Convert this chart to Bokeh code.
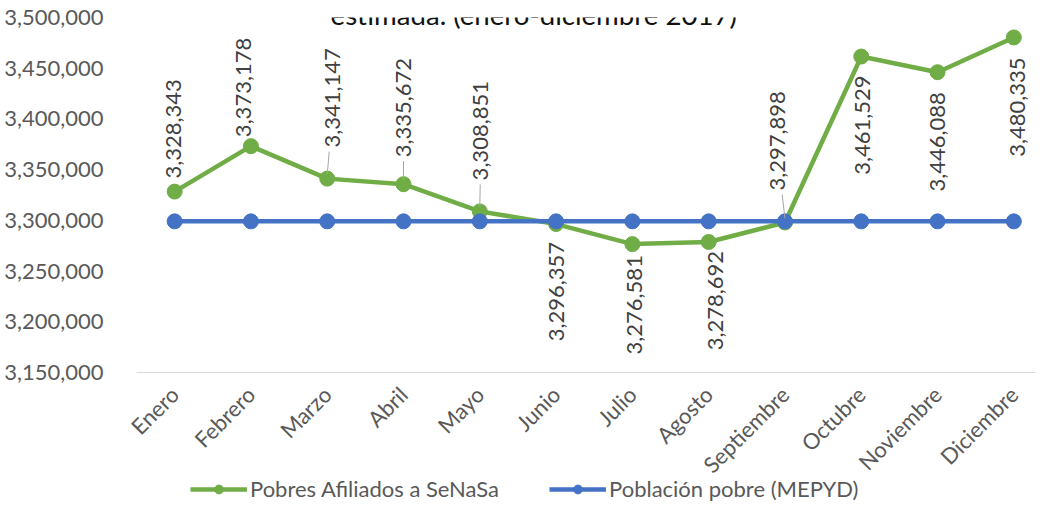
import math
from bokeh.plotting import figure
from bokeh.models import (FixedTicker, NumeralTickFormatter, Label, Range1d,
                          Legend, LegendItem)
from bokeh.core.properties import value
from bokeh.embed import file_html
from bokeh.resources import INLINE

# ---- data ----
months = ["Enero", "Febrero", "Marzo", "Abril", "Mayo", "Junio", "Julio",
          "Agosto", "Septiembre", "Octubre", "Noviembre", "Diciembre"]
afiliados = [3328343, 3373178, 3341147, 3335672, 3308851, 3296357, 3276581,
             3278692, 3297898, 3461529, 3446088, 3480335]
poblacion_pobre = [3299000] * 12
y_ticks = [3150000, 3200000, 3250000, 3300000, 3350000, 3400000, 3450000, 3500000]
title_text = "estimada. (enero-diciembre 2017)"
series_names = ["Pobres Afiliados a SeNaSa", "Población pobre (MEPYD)"]

# ---- label placement (styling) ----
label_side = ["above", "above", "above", "above", "above", "below", "below",
              "below", "above", "below", "below", "below"]
label_gap_px = [13, 9, 31, 27, 31, 18, 11, 9, 32, 19, 20, 20]
label_dx_px = [-1, -7, 5, 0, 1, 0, 2, 7, -7, 1, 0, 4]
leader = [False, False, True, True, True, False, False, False, True, False, False, False]

GREEN = "#70AD47"
BLUE = "#4472C4"
FONT = "Lato"

PAD_L = 20            # extra room left of the category area (px) for slanted labels
AX0, X1 = -0.5, 11.284
Y0, Y1 = 3150000, 3500000
PLOT_W = 899          # pixel width of the category area (AX0..X1)
PLOT_H = 355          # pixel height of the value area (Y0..Y1)
EXTRA_H = 130         # room under the value axis for categories and legend
px_x = PLOT_W / (X1 - AX0)
px_y = PLOT_H / (Y1 - Y0)
X0 = AX0 - PAD_L / px_x
Y_BOTTOM = Y0 - EXTRA_H / px_y

p = figure(frame_width=PLOT_W + PAD_L, frame_height=PLOT_H + EXTRA_H, output_backend="svg",
           toolbar_location=None,
           x_range=Range1d(X0, X1), y_range=Range1d(Y_BOTTOM, Y1),
           min_border_left=136 - PAD_L, min_border_right=0, min_border_top=17,
           min_border_bottom=0)
p.outline_line_color = None
p.xgrid.visible = False
p.ygrid.visible = False
p.background_fill_color = "white"
p.xaxis.visible = False

xs = list(range(len(months)))

# category axis line
p.segment([AX0], [Y0], [X1], [Y0], line_color="#D9D9D9", line_width=1)

l1 = p.line(xs, afiliados, line_color=GREEN, line_width=4.5)
s1 = p.scatter(xs, afiliados, size=15, fill_color=GREEN, line_color=GREEN)
l2 = p.line(xs, poblacion_pobre, line_color=BLUE, line_width=4.5)
s2 = p.scatter(xs, poblacion_pobre, size=15, fill_color=BLUE, line_color=BLUE)

# leader lines
lx0, ly0, lx1, ly1 = [], [], [], []
for i, v in enumerate(afiliados):
    if leader[i]:
        lx0.append(i + label_dx_px[i] * 0.4 / px_x)
        ly0.append(v + (label_gap_px[i] - 4) / px_y)
        lx1.append(i)
        ly1.append(v + 4 / px_y)
p.segment(lx0, ly0, lx1, ly1, line_color="#A6A6A6", line_width=1)

# data labels
for side in ("above", "below"):
    idx = [i for i in xs if label_side[i] == side]
    p.text([i for i in idx], [afiliados[i] for i in idx],
           text=[f"{afiliados[i]:,}" for i in idx],
           angle=math.pi / 2,
           x_offset=[label_dx_px[i] for i in idx],
           y_offset=[(-label_gap_px[i] if side == "above" else label_gap_px[i]) for i in idx],
           text_align="left" if side == "above" else "right",
           text_baseline="middle",
           text_font=value(FONT), text_font_size="22px", text_color="#404040")

# category labels, rotated 45 degrees
p.text(xs, [Y0] * len(xs), text=months, angle=math.pi / 4, y_offset=18,
       text_align="right", text_baseline="middle",
       text_font=value(FONT), text_font_size="22px", text_color="#595959")

# title (partially cut at top)
p.add_layout(Label(x=4.706, y=Y1 + 3 / px_y, text=title_text, text_align="center",
                   text_baseline="alphabetic", text_font=FONT, text_font_size="27.6px",
                   text_color="#111111"))

# value axis
p.yaxis.ticker = FixedTicker(ticks=y_ticks)
p.yaxis.formatter = NumeralTickFormatter(format="0,0")
p.yaxis.axis_line_color = None
p.yaxis.major_tick_line_color = None
p.yaxis.minor_tick_line_color = None
p.yaxis.major_label_text_font = FONT
p.yaxis.major_label_text_font_size = "22px"
p.yaxis.major_label_text_color = "#595959"
p.yaxis.major_label_standoff = 27 - PAD_L

# legend
lg = Legend(items=[LegendItem(label=series_names[0], renderers=[l1, s1]),
                   LegendItem(label=series_names[1], renderers=[l2, s2])],
            orientation="horizontal", location=(54 + PAD_L, 0))
lg.padding = 0
lg.margin = 0
lg.spacing = 50
lg.glyph_width = 57
lg.glyph_height = 22
lg.label_standoff = 3
lg.label_text_font = FONT
lg.label_text_font_size = "22px"
lg.label_text_color = "#595959"
lg.border_line_color = None
lg.background_fill_alpha = 0
p.add_layout(lg)

open("out.html", "w").write(file_html(p, INLINE))
